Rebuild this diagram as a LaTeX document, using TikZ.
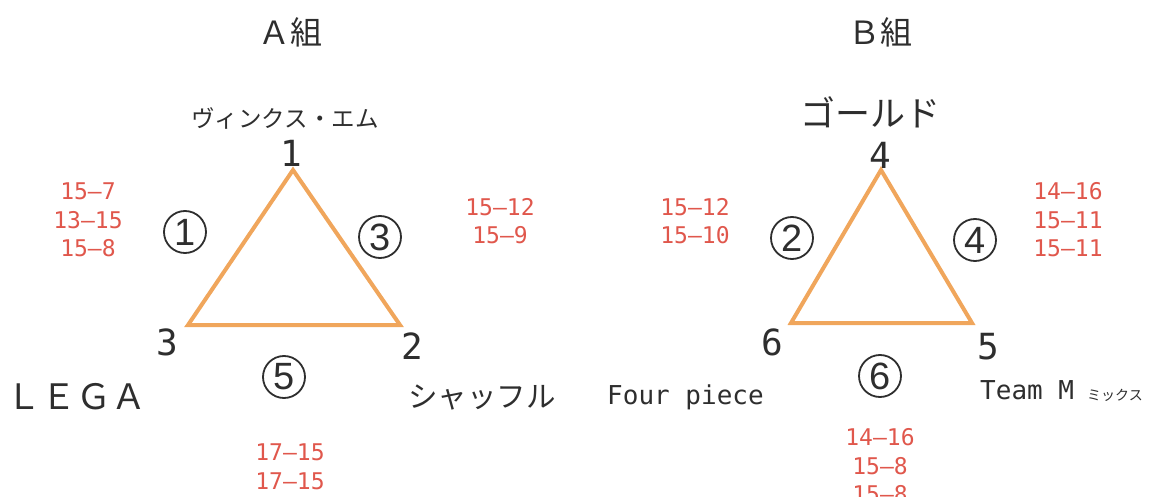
\documentclass[tikz,border=0pt]{standalone}
\usepackage{fontspec}
\usepackage{tikz}
\usetikzlibrary{positioning}
\newfontfamily\jpfont{Noto Sans CJK JP}
\newfontfamily\monofont{DejaVu Sans Mono}
\newfontfamily\circfont{Liberation Sans}
\definecolor{lineorange}{HTML}{F0A65C}
\definecolor{scorered}{HTML}{E0574C}
\definecolor{inkgray}{HTML}{2E2E2E}

\begin{document}
\begin{tikzpicture}[
x=1pt, y=-1pt,
title/.style={
    font=\jpfont\fontsize{32}{38}\selectfont,
    text=inkgray,
    inner sep=0pt
},
team/.style={
    font=\jpfont\fontsize{24}{28}\selectfont,
    text=inkgray,
    inner sep=0pt
},
latin/.style={
    font=\monofont\fontsize{26}{30}\selectfont,
    text=inkgray,
    inner sep=0pt
},
vnum/.style={
    font=\monofont\fontsize{36}{40}\selectfont,
    text=inkgray,
    inner sep=0pt
},
match/.style={
    circle,
    draw=inkgray,
    line width=1.8pt,
    minimum size=42pt,
    inner sep=0pt,
    font=\circfont\fontsize{38}{38}\selectfont,
    text=inkgray
},
score/.style={
    font=\monofont\fontsize{23}{28.5}\selectfont,
    text=scorered,
    align=center,
    inner sep=0pt
},
edge/.style={
    draw=lineorange,
    line width=4pt,
    line join=miter
}
]
\useasboundingbox (0,0) rectangle (1157,497);

% Group titles
\node[title] (titleA) at (290,32) {Ａ組};
\node[title] (titleB) at (880,32) {Ｂ組};

% Group A
\coordinate (a1) at (293,170);
\coordinate (a2) at (400,325);
\coordinate (a3) at (188,325);
\draw[edge] (a1) -- (a2) -- (a3) -- cycle;

\node[vnum] (n1) at (291,153) {1};
\node[vnum] (n2) at (412,346) {2};
\node[vnum] (n3) at (167,342) {3};

\node[team,font=\jpfont\fontsize{23.5}{26}\selectfont] (vinx) at (285,118) {ヴィンクス・エム};
\node[team,font=\jpfont\fontsize{35}{38}\selectfont,anchor=west] (lega) at (6,397) {ＬＥＧＡ};
\node[team,font=\jpfont\fontsize{29.5}{32}\selectfont] (shuffle) at (482,397) {シャッフル};

\node[match] (m1) at (185,232) {1};
\node[match] (m3) at (380,237) {3};
\node[match] (m5) at (284,377) {5};

\node[score] (s1) at (88,220) {15–7\\13–15\\15–8};
\node[score] (s3) at (500,221) {15–12\\15–9};
\node[score] (s5) at (290,467) {17–15\\17–15};

% Group B
\coordinate (b4) at (881,170);
\coordinate (b5) at (972,323);
\coordinate (b6) at (791,323);
\draw[edge] (b4) -- (b5) -- (b6) -- cycle;

\node[vnum] (n4) at (880,155) {4};
\node[vnum] (n5) at (988,347) {5};
\node[vnum] (n6) at (772,342) {6};

\node[team,font=\jpfont\fontsize{35}{38}\selectfont] (gold) at (870,112) {ゴールド};
\node[latin,anchor=west] (four) at (607,397) {Four piece};
\node[latin,anchor=west] (teamm) at (980,390) {Team M};
\node[team,font=\jpfont\fontsize{14}{16}\selectfont] (mix) at (1115,395) {ミックス};

\node[match] (m2) at (792,238) {2};
\node[match] (m4) at (975,240) {4};
\node[match] (m6) at (880,376) {6};

\node[score] (s2) at (695,221) {15–12\\15–10};
\node[score] (s4) at (1068,220) {14–16\\15–11\\15–11};
\node[score] (s6) at (880,466) {14–16\\15–8\\15–8};

\end{tikzpicture}
\end{document}
